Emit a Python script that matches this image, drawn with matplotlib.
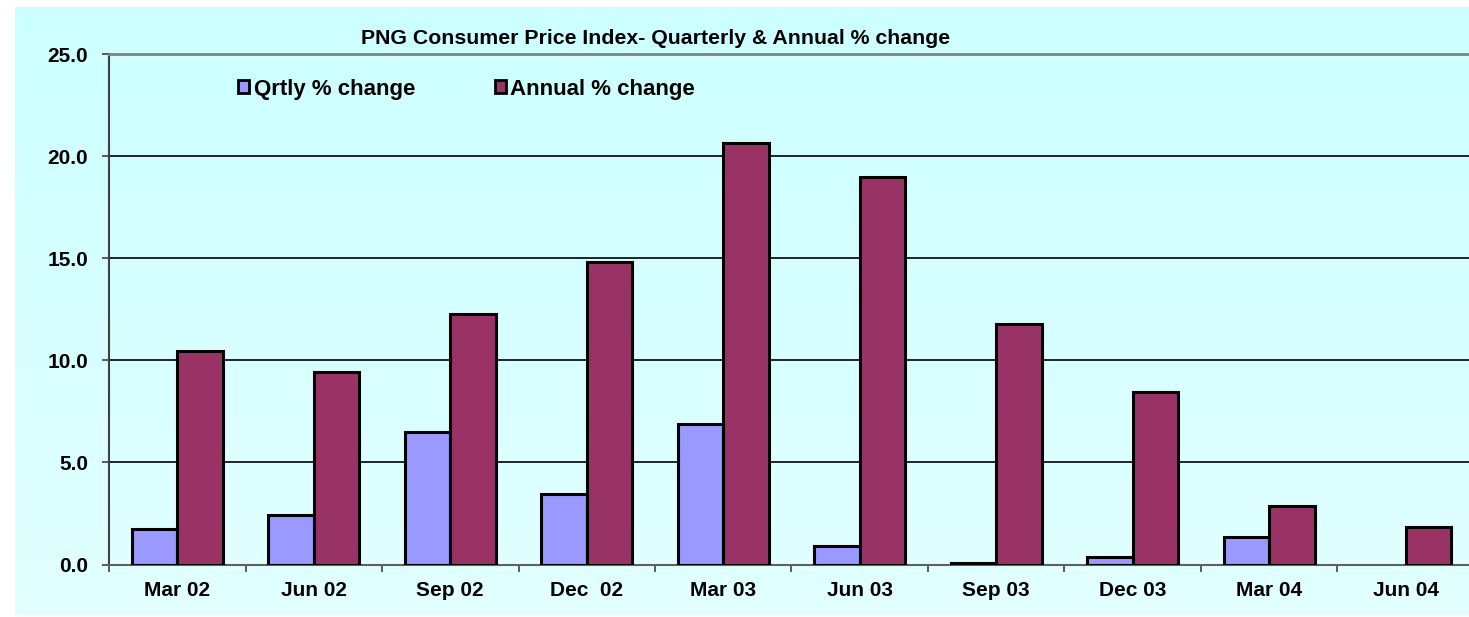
import numpy as np
import matplotlib
matplotlib.use("Agg")
import matplotlib.pyplot as plt
from matplotlib.patches import Patch
from matplotlib.ticker import FormatStrFormatter, MultipleLocator, FixedLocator

# data
quarters = ["Mar 02", "Jun 02", "Sep 02", "Dec  02", "Mar 03",
            "Jun 03", "Sep 03", "Dec 03", "Mar 04", "Jun 04"]
qrtly_change = [1.75, 2.4, 6.5, 3.45, 6.9, 0.9, 0.05, 0.35, 1.35, np.nan]
annual_change = [10.47, 9.42, 12.25, 14.8, 20.65, 18.97, 11.77, 8.43, 2.85, 1.85]

series_names = ["Qrtly % change", "Annual % change"]
series_colors = ["#9999FF", "#993366"]

plt.rcParams['font.family'] = ['Liberation Sans', 'DejaVu Sans']
plt.rcParams['font.weight'] = 'bold'

W, H = 1469, 617
fig = plt.figure(figsize=(W / 100, H / 100), dpi=100)
fig.patch.set_facecolor("white")

# gradient background of the chart area
bg = fig.add_axes([15 / W, 2 / H, 1 - 15 / W, 1 - 9 / H], zorder=-5)
grad = np.linspace(0, 1, 256).reshape(-1, 1)
top = np.array([204, 255, 255]) / 255
bot = np.array([226, 255, 255]) / 255
img = top[None, None, :] * (1 - grad[:, :, None]) + bot[None, None, :] * grad[:, :, None]
bg.imshow(img, aspect="auto", extent=[0, 1, 0, 1])
bg.set_axis_off()

ax = fig.add_axes([109 / W, 1 - 564.5 / H, (1474 - 109) / W, (564.5 - 54) / H])
ax.set_facecolor("none")

x = np.arange(len(quarters))
w = 1 / 3
ax.bar(x - w / 2, qrtly_change, width=w, color=series_colors[0],
       edgecolor="black", linewidth=2.2, zorder=3)
ax.bar(x + w / 2, annual_change, width=w, color=series_colors[1],
       edgecolor="black", linewidth=2.2, zorder=3)

ax.set_xlim(-0.5, len(quarters) - 0.5)
ax.set_ylim(0, 25)
ax.yaxis.set_major_locator(MultipleLocator(5))
ax.yaxis.set_major_formatter(FormatStrFormatter("%.1f"))
ax.yaxis.grid(True, color="black", linewidth=1.2, zorder=1)
ax.set_axisbelow(True)

ax.set_xticks(x)
ax.set_xticklabels(quarters)
ax.xaxis.set_minor_locator(FixedLocator(np.arange(len(quarters) + 1) - 0.5))
ax.tick_params(axis="x", which="major", length=0, pad=12, labelsize=15)
ax.tick_params(axis="x", which="minor", length=5, width=1.2, color="#404040", direction="out")
ax.tick_params(axis="y", length=5, width=1.2, color="#404040", pad=10, labelsize=15)

ax.spines["right"].set_visible(False)
ax.spines["top"].set_color("#808080")
ax.spines["top"].set_linewidth(2)
ax.spines["left"].set_color("#404040")
ax.spines["left"].set_linewidth(1.5)
ax.spines["bottom"].set_color("#606060")
ax.spines["bottom"].set_linewidth(1.5)

fig.text(656 / W, 1 - 38 / H, "PNG Consumer Price Index- Quarterly & Annual % change",
         ha="center", va="center", fontsize=15.3, fontweight="bold")

handles = [Patch(facecolor=c, edgecolor="black", linewidth=2) for c in series_colors]
fig.legend(handles, series_names, loc="center left", bbox_to_anchor=(238 / W, 1 - 89 / H),
           ncol=2, frameon=False, fontsize=16, handlelength=0.5, handleheight=0.5,
           handletextpad=0.2, columnspacing=3.6, borderaxespad=0, borderpad=0)

fig.savefig("out.png", dpi=100)
